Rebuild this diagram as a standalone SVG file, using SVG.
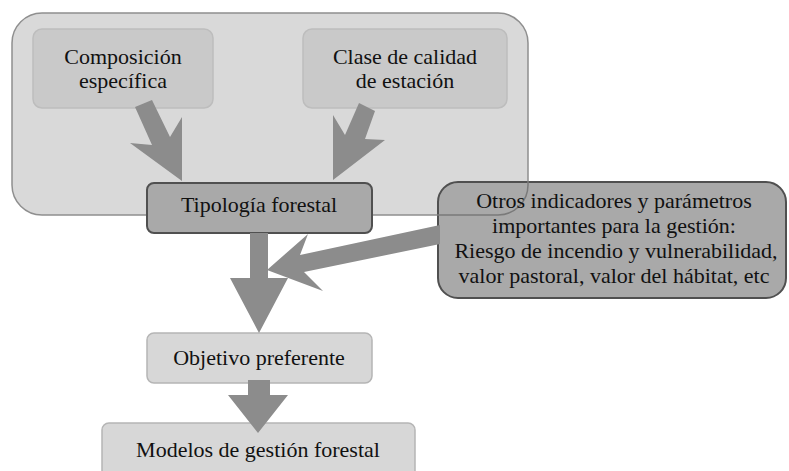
<svg xmlns="http://www.w3.org/2000/svg" width="789" height="471" viewBox="0 0 789 471">
<style>
  text { font-family: "Liberation Serif", "DejaVu Serif", "Times New Roman", serif; font-size: 22px; fill: #111; text-anchor: middle; }
  .container { fill: #d9d9d9; stroke: #8f8f8f; stroke-width: 1.5; }
  .outline { fill: none; stroke: #7a7a7a; stroke-width: 1.5; }
  .light { fill: #c9c9c9; stroke: #bdbdbd; stroke-width: 1.5; }
  .dark { fill: #a9a9a9; stroke: #505050; stroke-width: 2; }
  .pale { fill: #d7d7d7; stroke: #b5b5b5; stroke-width: 1.5; }
  .arrow { fill: #8c8c8c; stroke: none; }
</style>
<defs>
  <clipPath id="clipOtros">
    <rect x="437" y="181" width="100" height="40"/>
  </clipPath>
</defs>
<rect width="789" height="471" fill="#ffffff"/>
<g id="grupo-superior">
  <rect class="container" x="12" y="13" width="516" height="202" rx="30" ry="30"/>
</g>
<g id="composicion" font-family="Liberation Serif, DejaVu Serif, serif">
  <rect class="light" x="33" y="29" width="180" height="79" rx="9" ry="9"/>
  <text x="123" y="64" font-family="Liberation Serif, serif">Composición</text>
  <text x="123" y="88" font-family="Liberation Serif, serif">específica</text>
</g>
<g id="clase-calidad">
  <rect class="light" x="303" y="29" width="204" height="79" rx="9" ry="9"/>
  <text x="405" y="64" font-family="Liberation Serif, serif">Clase de calidad</text>
  <text x="405" y="88" font-family="Liberation Serif, serif">de estación</text>
</g>
<g id="tipologia">
  <rect class="dark" x="147" y="183" width="225" height="50" rx="7" ry="7"/>
  <text x="259" y="212" font-family="Liberation Serif, serif">Tipología forestal</text>
</g>
<g id="otros">
  <rect class="dark" x="438" y="182" width="348" height="116" rx="20" ry="20"/>
  <rect class="outline" x="12" y="13" width="516" height="202" rx="30" ry="30" clip-path="url(#clipOtros)"/>
  <text x="614" y="208" font-family="Liberation Serif, serif">Otros indicadores y parámetros</text>
  <text x="614" y="233" font-family="Liberation Serif, serif">importantes para la gestión:</text>
  <text x="616" y="258" font-family="Liberation Serif, serif">Riesgo de incendio y vulnerabilidad,</text>
  <text x="614" y="283" font-family="Liberation Serif, serif">valor pastoral, valor del hábitat, etc</text>
</g>
<g id="objetivo">
  <rect class="pale" x="147" y="333" width="225" height="50" rx="7" ry="7"/>
  <text x="259" y="365" font-family="Liberation Serif, serif">Objetivo preferente</text>
</g>
<g id="modelos">
  <rect class="pale" x="102" y="423" width="313" height="56" rx="7" ry="7"/>
  <text x="258" y="457" font-family="Liberation Serif, serif">Modelos de gestión forestal</text>
</g>
<g id="connectors">
  <polygon class="arrow" points="135,107 152,100 170,137 182,117 182,181 130,143 152,145"/>
  <polygon class="arrow" points="359,103 375,111 365,139 385,140 333,180 333,115 345,135"/>
  <polygon class="arrow" points="250,233 268,233 268,278 288,278 259,333 230,278 250,278"/>
  <polygon class="arrow" points="440,225 300,255 308,234 267,270 323,291 304,272 440,244"/>
  <polygon class="arrow" points="248,380 270,380 270,395 288,395 258,433 228,395 248,395"/>
</g>
</svg>
